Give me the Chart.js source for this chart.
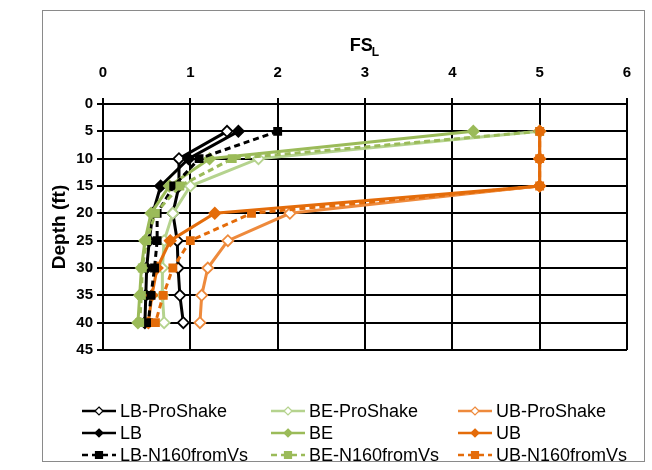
<!DOCTYPE html>
<html>
<head>
<meta charset="utf-8">
<script src="https://cdn.jsdelivr.net/npm/chart.js@4.4.0/dist/chart.umd.min.js"></script>
<style>
  html, body { margin: 0; padding: 0; background: #fff; }
  #wrap { position: relative; width: 652px; height: 470px; }
</style>
</head>
<body>
<div id="wrap"><canvas id="myChart" width="652" height="470"></canvas></div>
<script>
// depth (ft) of each point
const depths = [5, 10, 15, 20, 25, 30, 35, 40];

// FS_L values
const lbProShake = [1.42, 0.87, 0.87, 0.80, 0.85, 0.86, 0.88, 0.92];
const beProShake = [5.00, 1.78, 1.00, 0.80, 0.70, 0.68, 0.68, 0.70];
const ubProShake = [5.00, 5.00, 5.00, 2.14, 1.43, 1.20, 1.13, 1.11];
const lb = [1.55, 0.98, 0.66, 0.57, 0.53, 0.50, 0.49, 0.48];
const be = [4.24, 1.22, 0.76, 0.55, 0.48, 0.44, 0.42, 0.40];
const ub = [5.00, 5.00, 5.00, 1.28, 0.77, 0.62, 0.56, 0.52];
const lbN160 = [2.00, 1.10, 0.81, 0.62, 0.62, 0.59, 0.55, 0.52];
const beN160 = [5.00, 1.48, 0.88, 0.60, 0.50, 0.45, 0.44, 0.42];
const ubN160 = [5.00, 5.00, 5.00, 1.70, 1.00, 0.80, 0.69, 0.60];

const xTicks = [0, 1, 2, 3, 4, 5, 6];
const yTicks = [0, 5, 10, 15, 20, 25, 30, 35, 40, 45];

const BLACK = '#000000';
const GREEN = '#9BBB59';
const GREEN_LT = '#B5D38E';
const ORANGE = '#E46C0A';
const ORANGE_LT = '#EE8A3C';

// excel order (legend reads across the rows)
const series = [
  {label: 'LB-ProShake',    data: lbProShake, color: BLACK,     marker: 'open',   dash: false},
  {label: 'BE-ProShake',    data: beProShake, color: GREEN_LT,  marker: 'open',   dash: false},
  {label: 'UB-ProShake',    data: ubProShake, color: ORANGE_LT, marker: 'open',   dash: false},
  {label: 'LB',             data: lb,         color: BLACK,     marker: 'diamond', dash: false},
  {label: 'BE',             data: be,         color: GREEN,     marker: 'diamond', dash: false},
  {label: 'UB',             data: ub,         color: ORANGE,    marker: 'diamond', dash: false},
  {label: 'LB-N160fromVs',  data: lbN160,     color: BLACK,     marker: 'square',  dash: true},
  {label: 'BE-N160fromVs',  data: beN160,     color: GREEN,     marker: 'square',  dash: true},
  {label: 'UB-N160fromVs',  data: ubN160,     color: ORANGE,    marker: 'square',  dash: true}
];

const datasets = series.map((s, i) => ({
  label: s.label,
  data: s.data.map((v, j) => ({x: v, y: depths[j]})),
  showLine: true,
  borderColor: s.color,
  backgroundColor: s.color,
  borderWidth: 3,
  borderDash: s.dash ? [6, 4] : [],
  pointStyle: s.marker === 'square' ? 'rect' : 'rectRot',
  pointRadius: s.marker === 'square' ? 5 : 5.5,
  pointBackgroundColor: s.marker === 'open' ? '#ffffff' : s.color,
  pointBorderColor: s.color,
  pointBorderWidth: 1.8,
  order: series.length - i
}));

function drawMarker(c, kind, color, x, y, r) {
  c.save();
  c.setLineDash([]);
  c.beginPath();
  if (kind === 'square') {
    c.rect(x - r, y - r, 2 * r, 2 * r);
  } else {
    c.moveTo(x, y - r); c.lineTo(x + r, y); c.lineTo(x, y + r); c.lineTo(x - r, y); c.closePath();
  }
  c.fillStyle = kind === 'open' ? '#ffffff' : color;
  c.fill();
  c.strokeStyle = color;
  c.lineWidth = 1.2;
  c.stroke();
  c.restore();
}

const decor = {
  id: 'decor',
  beforeDraw(chart) {
    const c = chart.ctx;
    c.save();
    c.fillStyle = '#ffffff';
    c.fillRect(0, 0, chart.width, chart.height);
    c.strokeStyle = '#8a8a8a';
    c.lineWidth = 1;
    c.strokeRect(42.5, 10.5, 602, 451);
    c.restore();
  },
  afterDraw(chart) {
    const c = chart.ctx;
    const a = chart.chartArea;
    c.save();
    c.fillStyle = '#000';
    // x title FS with subscript L
    c.font = 'bold 18px "Liberation Sans", Arial, sans-serif';
    c.textBaseline = 'alphabetic';
    const mid = (a.left + a.right) / 2;
    const w1 = c.measureText('FS').width;
    c.font = 'bold 12px "Liberation Sans", Arial, sans-serif';
    const w2 = c.measureText('L').width;
    const x0 = mid - (w1 + w2) / 2;
    c.font = 'bold 18px "Liberation Sans", Arial, sans-serif';
    c.textAlign = 'left';
    c.fillText('FS', x0, 51);
    c.font = 'bold 12px "Liberation Sans", Arial, sans-serif';
    c.fillText('L', x0 + w1 - 1, 56);
    // y title
    c.save();
    c.translate(60, (a.top + a.bottom) / 2);
    c.rotate(-Math.PI / 2);
    c.font = 'bold 19px "Liberation Sans", Arial, sans-serif';
    c.textAlign = 'center';
    c.textBaseline = 'middle';
    c.fillText('Depth (ft)', 0, 0);
    c.restore();
    // legend
    const colX = [82, 271, 458];
    const rowY = [411, 433, 455];
    c.font = '18px "Liberation Sans", Arial, sans-serif';
    c.textAlign = 'left';
    c.textBaseline = 'middle';
    series.forEach((s, i) => {
      const x = colX[i % 3];
      const y = rowY[Math.floor(i / 3)];
      c.save();
      c.strokeStyle = s.color;
      c.lineWidth = 2.5;
      c.setLineDash(s.dash ? [6, 4] : []);
      c.beginPath();
      c.moveTo(x, y); c.lineTo(x + 34, y);
      c.stroke();
      c.restore();
      drawMarker(c, s.marker, s.color, x + 17, y, s.marker === 'square' ? 3.5 : 4);
      c.fillStyle = '#000';
      c.fillText(s.label, x + 38, y + 1);
    });
    c.restore();
  }
};

const ctx = document.getElementById('myChart').getContext('2d');
const myChart = new Chart(ctx, {
  type: 'scatter',
  data: {datasets: datasets},
  options: {
    responsive: false,
    animation: false,
    devicePixelRatio: 1,
    layout: {padding: {left: 0, top: 0, right: 25, bottom: 120}},
    plugins: {legend: {display: false}, tooltip: {enabled: false}},
    scales: {
      x: {
        type: 'linear',
        position: 'top',
        min: xTicks[0],
        max: xTicks[xTicks.length - 1],
        afterBuildTicks: s => { s.ticks = xTicks.map(v => ({value: v})); },
        afterFit: s => { s.height = 104; },
        ticks: {color: '#000', padding: 16, font: {family: '"Liberation Sans", Arial, sans-serif', size: 15, weight: 'bold'}},
        grid: {color: '#000', lineWidth: 2, tickLength: 6},
        border: {color: '#000', width: 2}
      },
      y: {
        type: 'linear',
        reverse: true,
        min: yTicks[0],
        max: yTicks[yTicks.length - 1],
        afterBuildTicks: s => { s.ticks = yTicks.map(v => ({value: v})); },
        afterFit: s => { s.width = 103; },
        ticks: {color: '#000', padding: 4, font: {family: '"Liberation Sans", Arial, sans-serif', size: 15, weight: 'bold'}},
        grid: {color: '#000', lineWidth: 2, tickLength: 6},
        border: {color: '#000', width: 2}
      }
    }
  },
  plugins: [decor]
});
</script>
</body>
</html>
